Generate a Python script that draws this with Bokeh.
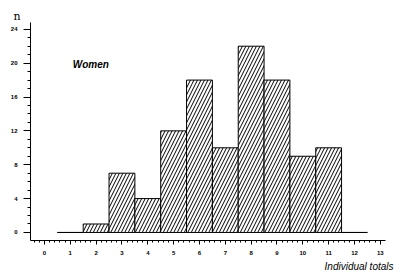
from bokeh.plotting import figure
from bokeh.models import Range1d, Label, FixedTicker, Title
from bokeh.embed import file_html
from bokeh.resources import INLINE

bins = [1, 2, 3, 4, 5, 6, 7, 8, 9, 10, 11, 12]
counts = [0, 1, 7, 4, 12, 18, 10, 22, 18, 9, 10, 0]
x_ticks = list(range(0, 14))
y_ticks = [0, 4, 8, 12, 16, 20, 24]

left = [b - 0.5 for b in bins]
right = [b + 0.5 for b in bins]
bottom = [0] * len(bins)

p = figure(width=400, height=280, output_backend="svg", toolbar_location=None,
           x_range=Range1d(-0.54, 13.2), y_range=Range1d(-0.95, 24.8),
           min_border_left=30, min_border_right=15, min_border_top=22, min_border_bottom=40)
p.outline_line_color = None
p.grid.visible = False

p.quad(left=left, right=right, bottom=bottom, top=counts,
       fill_color="white", line_color="black", line_width=1,
       hatch_pattern="right_diagonal_line", hatch_color="black",
       hatch_scale=7, hatch_weight=1)

for ax in (p.xaxis[0], p.yaxis[0]):
    ax.axis_line_color = "black"
    ax.major_tick_line_color = "black"
    ax.minor_tick_line_color = "black"
    ax.major_label_text_font = "Liberation Sans"
    ax.major_label_text_font_size = "6px"
    ax.major_label_text_font_style = "bold"
    ax.major_label_text_color = "black"

p.xaxis.ticker = FixedTicker(ticks=x_ticks, minor_ticks=[i / 5 for i in range(-2, 66)])
p.xaxis.major_tick_in = 0
p.xaxis.major_tick_out = 4
p.xaxis.minor_tick_in = 0
p.xaxis.minor_tick_out = 2
p.xaxis.major_label_standoff = 6

p.yaxis.ticker = FixedTicker(ticks=y_ticks, minor_ticks=list(range(0, 25)))
p.yaxis.major_tick_in = 0
p.yaxis.major_tick_out = 7
p.yaxis.minor_tick_in = 0
p.yaxis.minor_tick_out = 3
p.yaxis.major_label_standoff = 6

p.add_layout(Label(x=1.1, y=19.2, text="Women", text_font="Liberation Sans",
                   text_font_size="10px", text_font_style="bold italic",
                   text_color="black"))
p.add_layout(Title(text="Individual totals", align="right", text_font="Liberation Sans",
                   text_font_size="10px", text_font_style="italic", text_color="black",
                   offset=-8, standoff=2), "below")
p.add_layout(Title(text="n", align="left", text_font="DejaVu Serif",
                   text_font_size="11px", text_font_style="normal", text_color="black",
                   offset=-17, standoff=0), "above")

open("out.html", "w").write(file_html(p, INLINE))
